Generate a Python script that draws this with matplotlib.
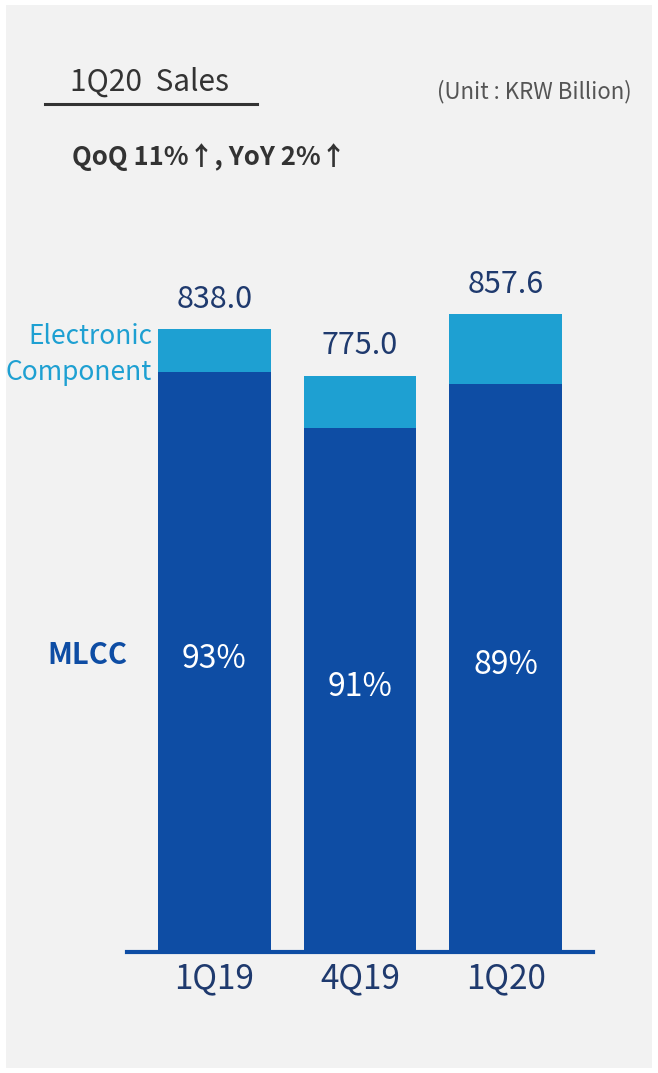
import matplotlib.pyplot as plt
from matplotlib.patches import Rectangle

plt.rcParams['font.family'] = ['Noto Sans CJK KR', 'DejaVu Sans']

quarters = ['1Q19', '4Q19', '1Q20']
totals = [838.0, 775.0, 857.6]
mlcc_share = [93, 91, 89]

mlcc_col = '#0E4DA4'
ec_col = '#1EA0D2'
navy = '#1F3A6E'
bg = '#F2F2F2'

W, H = 658, 1073
fig = plt.figure(figsize=(W / 100, H / 100), dpi=100, facecolor='white')
fig.patches.append(Rectangle((6 / W, 5 / H), 646 / W, 1063 / H, transform=fig.transFigure,
                             facecolor=bg, edgecolor='none', zorder=-5))

ax = fig.add_axes([127 / W, (H - 952) / H, (593 - 127) / W, (952 - 250) / H])
ax.set_facecolor('none')
ax.set_zorder(2)

x = list(range(len(quarters)))
mlcc = [t * s / 100 for t, s in zip(totals, mlcc_share)]
ec = [t - m for t, m in zip(totals, mlcc)]

ax.bar(x, mlcc, width=0.772, color=mlcc_col, zorder=2)
ax.bar(x, ec, bottom=mlcc, width=0.772, color=ec_col, zorder=2)

for i in x:
    ax.text(i, totals[i] + 40, f'{totals[i]:.1f}', ha='center', va='center',
            fontsize=22, color=navy)
    ax.text(i, mlcc[i] / 2 + 4, f'{mlcc_share[i]}%', ha='center', va='center',
            fontsize=23, color='white')

ax.set_xlim(-0.6, 2.6)
ax.set_ylim(0, 944)
ax.set_yticks([])
ax.set_xticks(x)
ax.set_xticklabels(quarters, fontsize=24, color=navy)
ax.get_xticklabels()[2].set_fontweight('medium')
ax.tick_params(axis='x', length=0, pad=7)
for s in ['top', 'left', 'right']:
    ax.spines[s].set_visible(False)
ax.spines['bottom'].set_color(mlcc_col)
ax.spines['bottom'].set_linewidth(3)
ax.spines['bottom'].set_zorder(3)

# side labels
fig.text(152 / W, 1 - 337 / H, 'Electronic', ha='right', va='center', fontsize=19,
         color=ec_col)
fig.text(152 / W, 1 - 373 / H, 'Component', ha='right', va='center', fontsize=19,
         color=ec_col)
fig.text(127 / W, 1 - 655 / H, 'MLCC', ha='right', va='center', fontsize=21,
         color=mlcc_col, fontweight='bold')

# header
fig.text(70 / W, 1 - 82 / H, '1Q20  Sales', ha='left', va='center', fontsize=21.5,
         color='#333333')
fig.add_artist(plt.Line2D([45 / W, 257 / W], [1 - 104 / H, 1 - 104 / H], color='#333333',
                          linewidth=2.2, transform=fig.transFigure))
fig.text(632 / W, 1 - 92 / H, '(Unit : KRW Billion)', ha='right', va='center', fontsize=16,
         color='#555555')
fig.text(72 / W, 1 - 157 / H, 'QoQ 11%↑, YoY 2%↑', ha='left', va='center', fontsize=18.5,
         color='#333333', fontweight='bold')

fig.savefig('out.png', dpi=100, facecolor='white')
